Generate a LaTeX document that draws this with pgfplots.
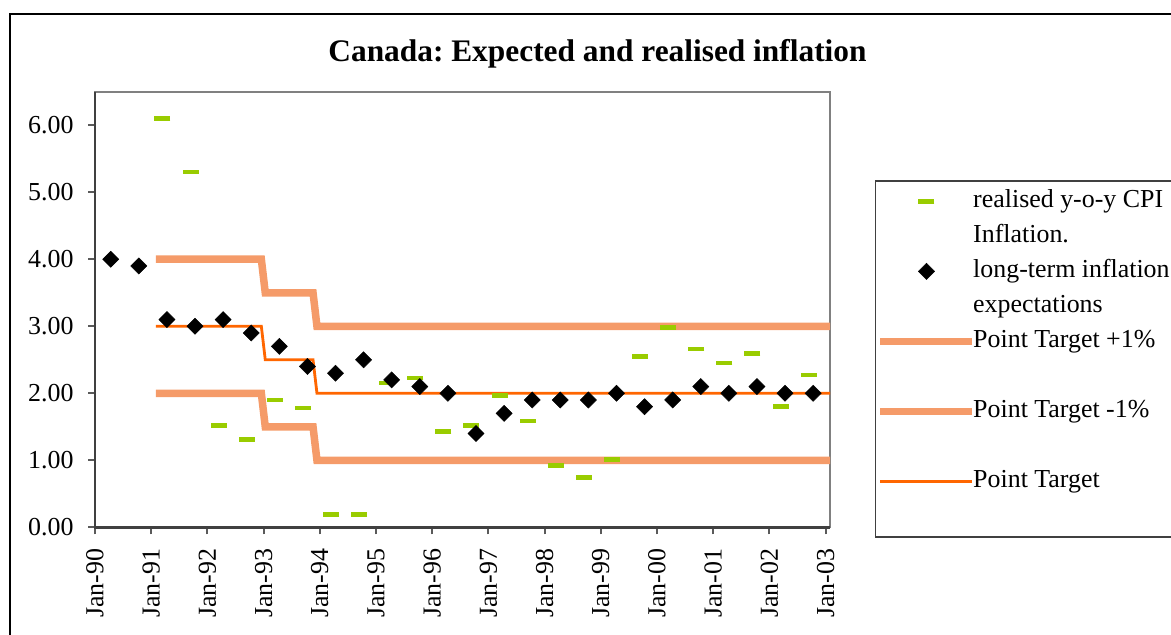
\documentclass[border=0pt]{standalone}
\usepackage{fontspec}
\setmainfont{Liberation Serif}
\usepackage{pgfplots}
\pgfplotsset{compat=1.18}
\frenchspacing
\definecolor{cpigreen}{RGB}{153,204,0}
\definecolor{bandc}{RGB}{245,155,105}
\definecolor{target}{RGB}{255,102,0}
\definecolor{axdark}{RGB}{64,64,64}
\definecolor{axgray}{RGB}{128,128,128}
\definecolor{tickc}{RGB}{90,90,90}
\begin{document}
\begin{tikzpicture}
\useasboundingbox (0,0) rectangle (1171bp,-635bp);
\draw[line width=1.5bp, black] (10bp,-14bp) rectangle (1300bp,-800bp);
\begin{axis}[
  name=ax,
  at={(95bp,-527.3bp)}, anchor=south west,
  scale only axis, width=735bp, height=435.6bp,
  xmin=0, xmax=13.08, ymin=0, ymax=6.5,
  axis line style={axgray, line width=2bp},
  tick pos=left, tick align=outside,
  major tick length=7bp,
  tick style={tickc, line width=2bp},
  xtick={0,1,...,13},
  xticklabels={Jan-90,Jan-91,Jan-92,Jan-93,Jan-94,Jan-95,Jan-96,Jan-97,Jan-98,Jan-99,Jan-00,Jan-01,Jan-02,Jan-03},
  ytick={0,1,2,3,4,5,6},
  yticklabels={0.00,1.00,2.00,3.00,4.00,5.00,6.00},
  ticklabel style={font=\fontsize{26}{31}\selectfont},
  xticklabel style={rotate=90, anchor=east},
  xticklabel shift=11bp,
  yticklabel shift=11bp,
  title={\frenchspacing Canada: Expected and realised inflation},
  title style={at={(0.6837,1.0545)}, anchor=base, font=\bfseries\fontsize{31.5}{38}\selectfont},
  legend image code/.code={\draw[mark repeat=2,mark phase=2] plot coordinates {(0bp,0bp)(46bp,0bp)(92bp,0bp)};},
  legend cell align=left,
  legend style={at={(1.0612,0.797)}, anchor=north west, draw=axdark, line width=1.5bp,
    inner xsep=1bp, inner ysep=3bp, font=\fontsize{26}{31}\selectfont,
    row sep=0pt, column sep=-4bp,
    nodes={inner xsep=1bp, inner ysep=1bp, text height=23bp, text depth=10bp}},
]
\addplot[bandc, line width=7.5bp, forget plot] coordinates {(1.083,4)(2.96,4)(3.03,3.5)(3.88,3.5)(3.95,3)(13.08,3)};
\addplot[bandc, line width=7.5bp, forget plot] coordinates {(1.083,2)(2.96,2)(3.03,1.5)(3.88,1.5)(3.95,1)(13.08,1)};
\addplot[target, line width=2.8bp, forget plot] coordinates {(1.083,3)(2.96,3)(3.03,2.5)(3.88,2.5)(3.95,2)(13.08,2)};
\addplot[only marks, mark=-, mark size=8bp, color=cpigreen, mark options={line width=4.5bp}] table {
x y
1.20 6.10
1.70 5.30
2.20 1.52
2.70 1.31
3.20 1.90
3.70 1.78
4.20 0.19
4.70 0.19
5.20 2.15
5.70 2.23
6.20 1.43
6.70 1.52
7.20 1.97
7.70 1.59
8.20 0.92
8.70 0.74
9.20 1.01
9.70 2.55
10.20 2.98
10.70 2.66
11.20 2.45
11.70 2.59
12.20 1.80
12.70 2.27
};
\addlegendentry{realised y-o-y CPI}
\addlegendimage{empty legend}\addlegendentry{Inflation.}
\addplot[only marks, mark=square*, mark size=5.7bp, color=black, mark options={rotate=45, fill=black, draw=black, line width=0.5bp}] table {
x y
0.28 4.0
0.78 3.9
1.28 3.1
1.78 3.0
2.28 3.1
2.78 2.9
3.28 2.7
3.78 2.4
4.28 2.3
4.78 2.5
5.28 2.2
5.78 2.1
6.28 2.0
6.78 1.4
7.28 1.7
7.78 1.9
8.28 1.9
8.78 1.9
9.28 2.0
9.78 1.8
10.28 1.9
10.78 2.1
11.28 2.0
11.78 2.1
12.28 2.0
12.78 2.0
};
\addlegendentry{long-term inflation}
\addlegendimage{empty legend}\addlegendentry{expectations}
\addlegendimage{bandc, line width=7.5bp}\addlegendentry{Point Target +1\%}
\addlegendimage{empty legend}\addlegendentry{\mbox{}}
\addlegendimage{bandc, line width=7.5bp}\addlegendentry{Point Target -1\%}
\addlegendimage{empty legend}\addlegendentry{\mbox{}}
\addlegendimage{target, line width=2.8bp}\addlegendentry{Point Target}
\addlegendimage{empty legend}\addlegendentry{\mbox{}}
\end{axis}
\draw[axdark, line width=2.5bp] (ax.north west) -- (ax.south west) -- (ax.south east);
\end{tikzpicture}
\end{document}
